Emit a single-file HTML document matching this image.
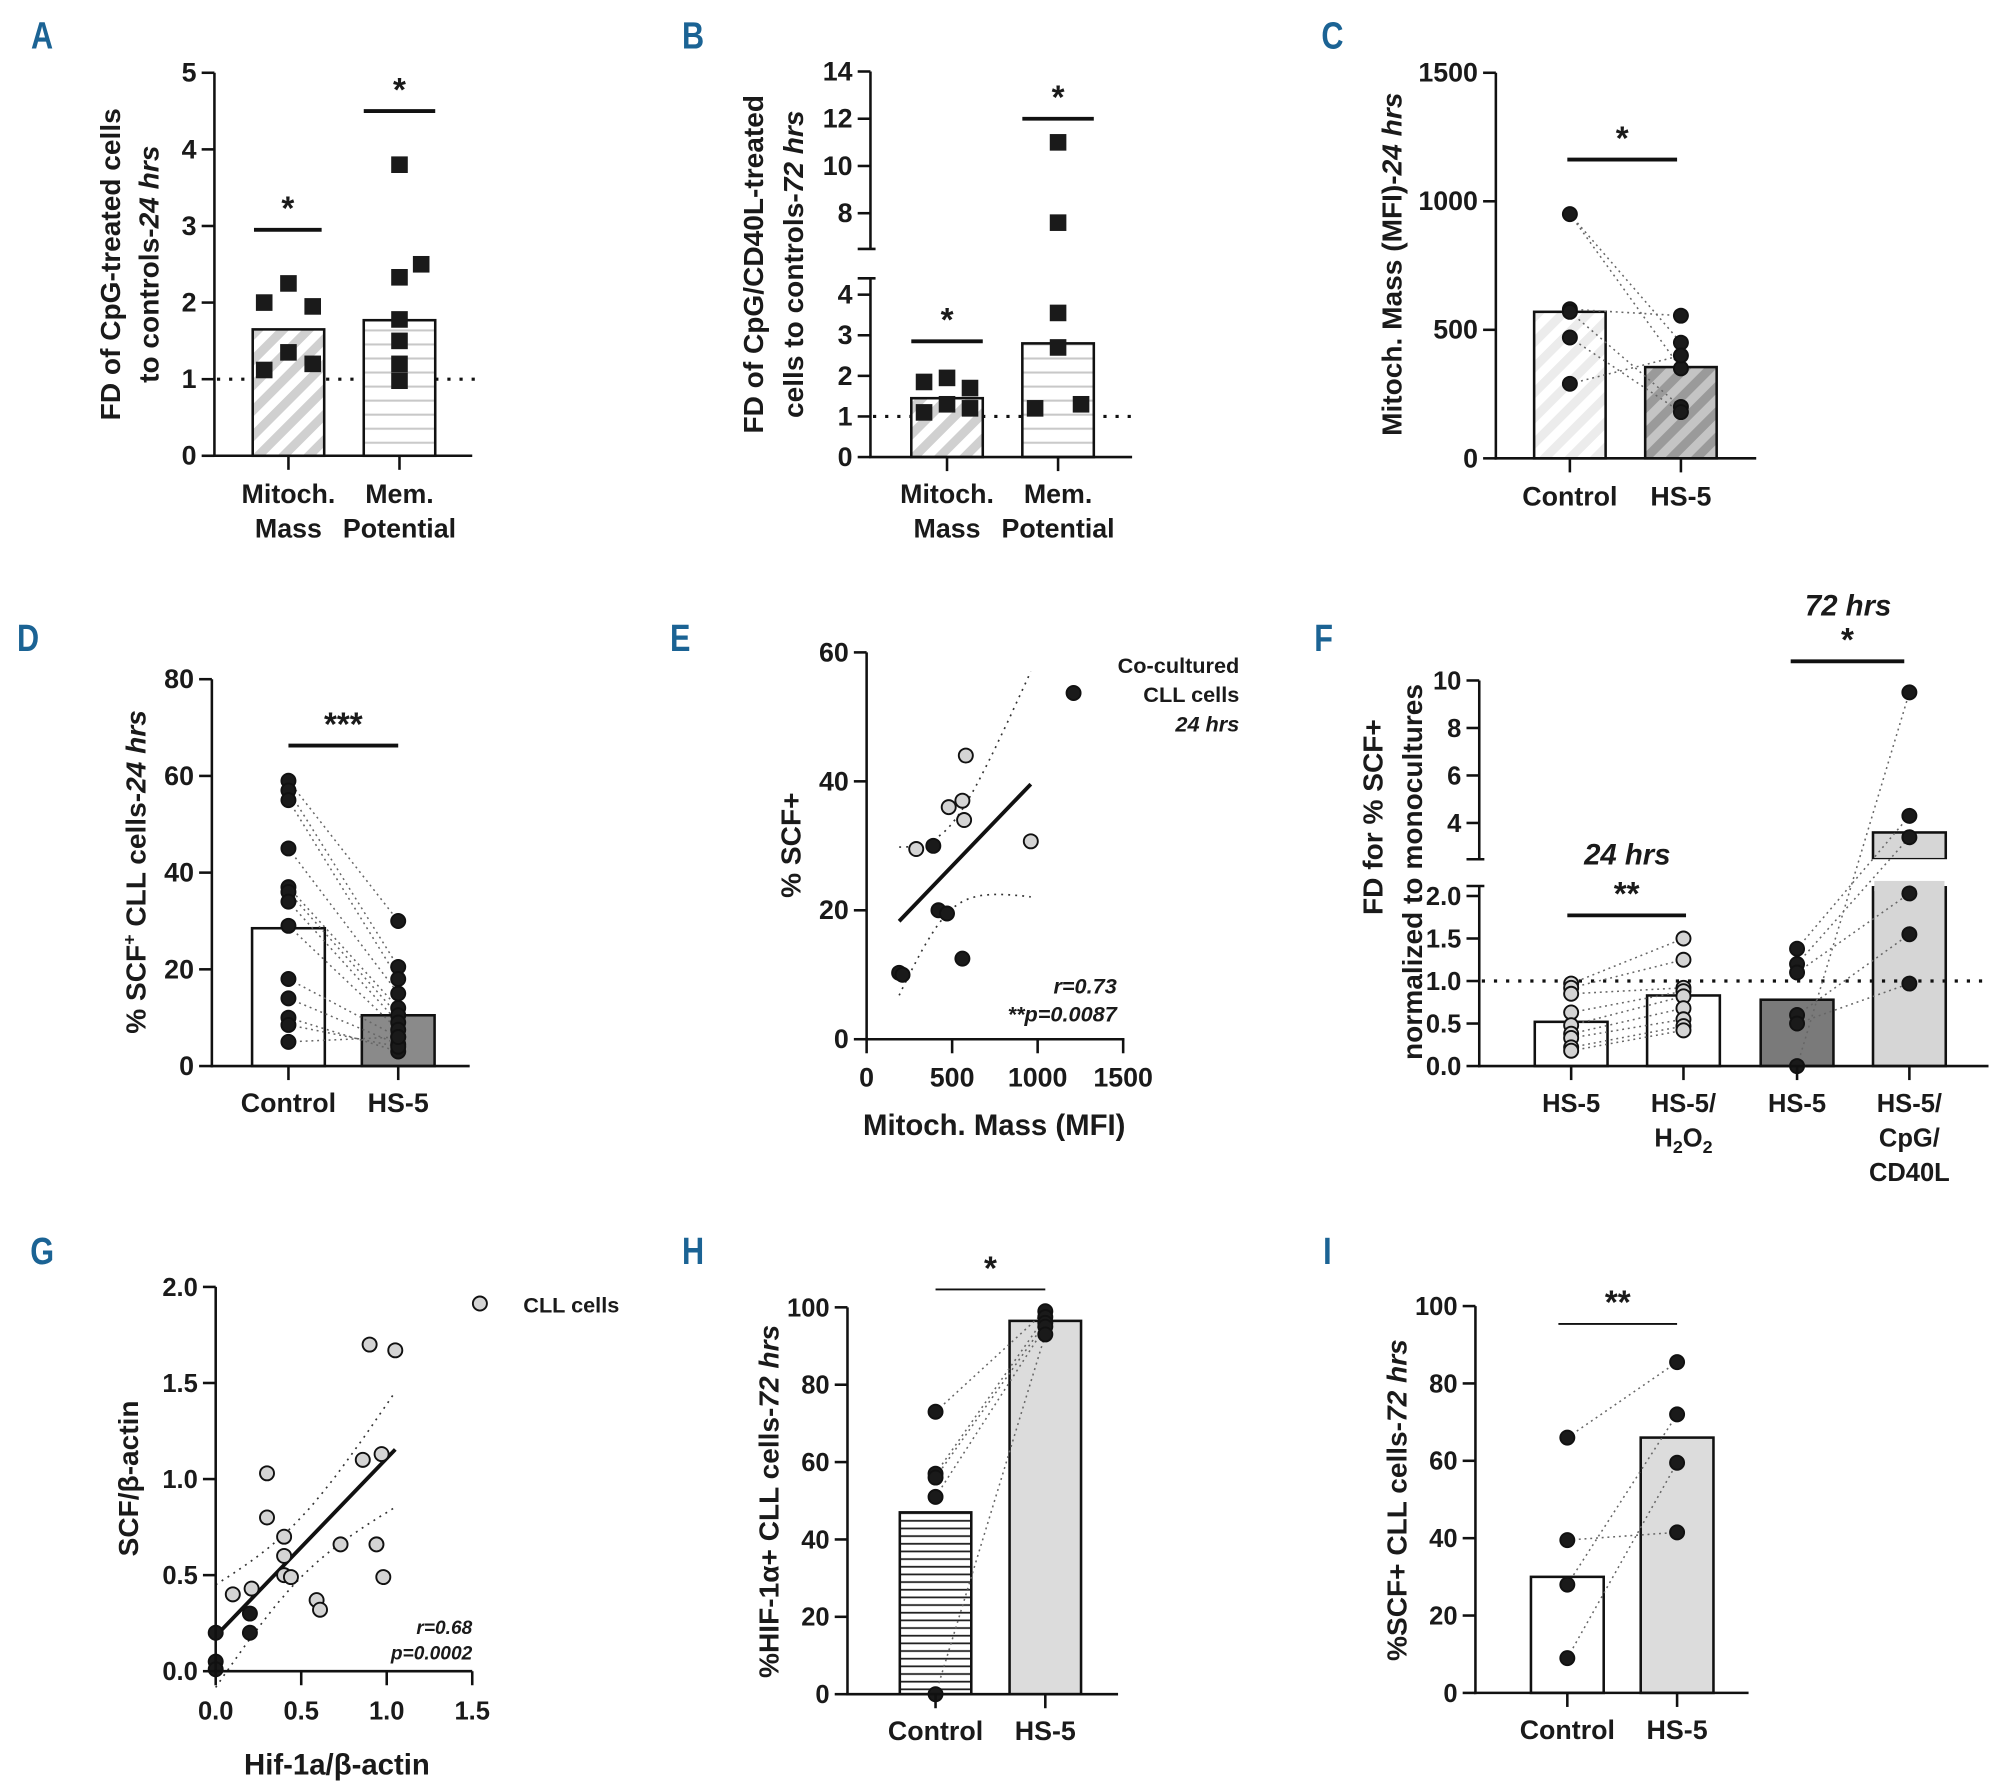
<!DOCTYPE html>
<html><head><meta charset="utf-8"><style>
html,body{margin:0;padding:0;background:#fff;}
svg{display:block;}
text{font-family:"Liberation Sans Narrow","Liberation Sans",sans-serif;font-weight:bold;fill:#1a1a1a;}
</style></head><body>
<svg id="chart" width="2000" height="1781" viewBox="0 0 1567 1395" preserveAspectRatio="none" xmlns="http://www.w3.org/2000/svg">
<defs>
<pattern id="diagLight" patternUnits="userSpaceOnUse" width="14" height="14" patternTransform="rotate(45)"><rect width="14" height="14" fill="#fff"/><rect width="7" height="14" fill="#d0d0d0"/></pattern>
<pattern id="diagVeryLight" patternUnits="userSpaceOnUse" width="14" height="14" patternTransform="rotate(45)"><rect width="14" height="14" fill="#fff"/><rect width="7" height="14" fill="#ececec"/></pattern>
<pattern id="diagDark" patternUnits="userSpaceOnUse" width="14" height="14" patternTransform="rotate(45)"><rect width="14" height="14" fill="#c4c4c4"/><rect width="7" height="14" fill="#9a9a9a"/></pattern>
<pattern id="horizLight" patternUnits="userSpaceOnUse" width="10" height="11"><rect width="10" height="11" fill="#fff"/><rect y="5" width="10" height="1.6" fill="#c8c8c8"/></pattern>
<pattern id="horizDark" patternUnits="userSpaceOnUse" width="10" height="6"><rect width="10" height="6" fill="#fff"/><rect y="2.5" width="10" height="1.4" fill="#222"/></pattern>
</defs>
</svg>
<script>
// ---------- DATA ----------
const aCats = ['Mitoch.|Mass', 'Mem.|Potential'];
const aBars = [1.65, 1.77];
const aPtsMito = [2.0, 2.25, 1.95, 1.35, 1.12, 1.2];
const aPtsMem = [3.8, 2.33, 2.5, 1.78, 1.5, 1.2, 0.98];
const aTicks = [0, 1, 2, 3, 4, 5];

const bBars = [1.45, 2.8];
const bPtsMito = [1.85, 1.95, 1.7, 1.1, 1.3, 1.2];
const bPtsMem = [11, 7.6, 3.55, 2.7, 1.2, 1.3];
const bTicksLow = [0, 1, 2, 3, 4];
const bTicksHigh = [8, 10, 12, 14];

const cCats = ['Control', 'HS-5'];
const cBars = [570, 355];
const cControl = [950, 580, 570, 470, 290];
const cHS5 = [555, 350, 450, 400, 200, 180];
const cTicks = [0, 500, 1000, 1500];

const dCats = ['Control', 'HS-5'];
const dBars = [28.5, 10.5];
const dControl = [59, 57, 55, 45, 37, 36, 34, 29, 18, 14, 10, 8.5, 5];
const dHS5 = [30, 20.5, 18, 15, 12, 10.5, 9, 7.5, 6, 4.5, 3, 4, 6];
const dTicks = [0, 20, 40, 60, 80];

const eDarkX = [390, 420, 470, 560, 190, 210];
const eDarkY = [30, 20, 19.5, 12.5, 10.3, 10];
const eLightX = [580, 560, 480, 570, 290, 960];
const eLightY = [44, 37, 36, 34, 29.5, 30.7];
const eOutlierX = [1210];
const eOutlierY = [53.7];
const eXTicks = [0, 500, 1000, 1500];
const eYTicks = [0, 20, 40, 60];

const fCats = ['HS-5', 'HS-5/|H2O2', 'HS-5', 'HS-5/|CpG/|CD40L'];
const fBars = [0.52, 0.83, 0.78, 3.6];
const fCol1 = [0.97, 0.92, 0.85, 0.63, 0.48, 0.38, 0.33, 0.22, 0.18];
const fCol2 = [1.5, 1.25, 0.92, 0.88, 0.82, 0.68, 0.55, 0.47, 0.42];
const fCol3 = [1.38, 1.2, 1.1, 0.6, 0.5, 0.0];
const fCol4 = [9.5, 4.3, 3.4, 2.03, 1.55, 0.97];
const fTicksLow = [0.0, 0.5, 1.0, 1.5, 2.0];
const fTicksHigh = [4, 6, 8, 10];

const gLightX = [0.9, 1.05, 0.3, 0.3, 0.4, 0.4, 0.4, 0.44, 0.21, 0.1, 0.73, 0.94, 0.86, 0.97, 0.59, 0.61, 0.98];
const gLightY = [1.7, 1.67, 1.03, 0.8, 0.7, 0.6, 0.5, 0.49, 0.43, 0.4, 0.66, 0.66, 1.1, 1.13, 0.37, 0.32, 0.49];
const gDarkX = [0, 0.2, 0.2, 0, 0];
const gDarkY = [0.2, 0.3, 0.2, 0.05, 0.01];
const gXTicks = [0.0, 0.5, 1.0, 1.5];
const gYTicks = [0.0, 0.5, 1.0, 1.5, 2.0];

const hCats = ['Control', 'HS-5'];
const hBars = [47, 96.5];
const hControl = [73, 57, 56, 51, 0];
const hHS5 = [99, 97.5, 96, 95, 93];
const hTicks = [0, 20, 40, 60, 80, 100];

const iCats = ['Control', 'HS-5'];
const iBars = [30, 66];
const iControl = [66, 39.5, 28, 9];
const iHS5 = [85.5, 72, 59.5, 41.5];
const iTicks = [0, 20, 40, 60, 80, 100];

// ---------- HELPERS ----------
const svg = document.getElementById('chart');
const NS = 'http://www.w3.org/2000/svg';
function mk(tag, attrs, parent) {
  const e = document.createElementNS(NS, tag);
  for (const k in attrs) e.setAttribute(k, attrs[k]);
  (parent || svg).appendChild(e);
  return e;
}
function lin(d0, d1, r0, r1) { return v => r0 + (v - d0) * (r1 - r0) / (d1 - d0); }
function txt(x, y, s, size, anchor, extra) {
  const t = mk('text', Object.assign({x: x, y: y, 'font-size': size, 'text-anchor': anchor || 'middle'}, extra || {}));
  t.textContent = s;
  return t;
}
function group(name) {
  const g = mk('g', {});
  
  
  return g;
}
function line(g, x1, y1, x2, y2, w, extra) {
  return mk('line', Object.assign({x1: x1, y1: y1, x2: x2, y2: y2, stroke: '#111', 'stroke-width': w || 2}, extra || {}), g);
}
function panelLetter(x, y, s) {
  const t = txt(x, y, s, 30, 'middle', {fill: '#1b6394', style: 'fill:#1b6394', transform: 'scale(0.8,1)', x: x / 0.8});
  
  
}
function yTick(g, x, y, label, size, extra) {
  line(g, x - 10, y, x, y, 2);
  const t = txt(x - 14, y + 7, label, size || 21, 'end', extra || {});
  
  
}
function yAxis(g, x, yTop, yBot, ticks, sc, fmt, size) {
  const a = line(g, x, yTop, x, yBot, 2);
  
  
  ticks.forEach(v => yTick(g, x, sc(v), fmt ? fmt(v) : String(v), size));
}
function xAxis(g, x1, x2, y, ticksX) {
  const a = line(g, x1 - 1, y, x2, y, 2);
  
  
  ticksX.forEach(x => line(g, x, y, x, y + 11, 2));
}
function yTitle(g, x, yc, parts, size) {
  const t = mk('text', {x: 0, y: 0, 'font-size': size || 22, 'text-anchor': 'middle', transform: 'translate(' + x + ',' + yc + ') rotate(-90)'}, g);
  parts.forEach(p => {
    const s = mk('tspan', p.italic ? {'font-style': 'italic'} : (p.sup ? {'baseline-shift': 'super', 'font-size': 14} : {}), t);
    s.textContent = p.t;
  });
  
  
}
function xCatLabels(g, xs, cats, y, size) {
  cats.forEach((c, i) => {
    c.split('|').forEach((ln, j) => {
      let t;
      if (ln === 'H2O2') {
        t = mk('text', {x: xs[i], y: y + j * 27, 'font-size': size || 21, 'text-anchor': 'middle'}, g);
        ['H', '2', 'O', '2'].forEach((p, k) => { const s = mk('tspan', k % 2 ? {'font-size': 14, dy: 5} : {dy: k === 2 ? -5 : 0}, t); s.textContent = p; });
      } else t = txt(xs[i], y + j * 27, ln, size || 21);
      
      
    });
  });
}
function bar(g, cx, w, y0, y1, fill, name) {
  const r = mk('rect', {x: cx - w / 2, y: Math.min(y0, y1), width: w, height: Math.abs(y0 - y1), fill: fill, stroke: '#111', 'stroke-width': 2}, g);
  
  
  return r;
}
function dot(g, x, y, fill, name, r) {
  const c = mk('circle', {cx: x, cy: y, r: r || 5.5, fill: fill, stroke: '#111', 'stroke-width': 1.5}, g);
  
  
}
function square(g, x, y, name) {
  const r = mk('rect', {x: x - 6.5, y: y - 6.5, width: 13, height: 13, fill: '#1a1a1a'}, g);
  
  
}
function pairLine(g, x1, y1, x2, y2) {
  const l = mk('line', {x1: x1, y1: y1, x2: x2, y2: y2, stroke: '#666', 'stroke-width': 1.2, 'stroke-dasharray': '1.5 3'}, g);
  
  
}
function sig(g, x1, x2, y, stars, w, size) {
  const l = line(g, x1, y, x2, y, w || 3);
  
  
  const t = txt((x1 + x2) / 2, y - 8, stars, size || 26);
  
  
}
function refLine(g, x1, x2, y) {
  const l = mk('line', {x1: x1, y1: y, x2: x2, y2: y, stroke: '#111', 'stroke-width': 2.5, 'stroke-dasharray': '2.5 7'}, g);
  
  
}
function regress(xs, ys) {
  const n = xs.length, mx = xs.reduce((a, b) => a + b) / n, my = ys.reduce((a, b) => a + b) / n;
  let sxx = 0, sxy = 0;
  xs.forEach((x, i) => { sxx += (x - mx) ** 2; sxy += (x - mx) * (ys[i] - my); });
  const b = sxy / sxx, a = my - b * mx;
  let sse = 0; xs.forEach((x, i) => { sse += (ys[i] - a - b * x) ** 2; });
  const s = Math.sqrt(sse / (n - 2));
  return {a: a, b: b, s: s, mx: mx, sxx: sxx, n: n};
}
function regDraw(g, R, xmin, xmax, sx, sy) {
  const l = line(g, sx(xmin), sy(R.a + R.b * xmin), sx(xmax), sy(R.a + R.b * xmax), 3);
  
  
  [1, -1].forEach(sgn => {
    let d = '';
    for (let k = 0; k <= 40; k++) {
      const x = xmin + (xmax - xmin) * k / 40;
      const se = 2.2 * R.s * Math.sqrt(1 / R.n + (x - R.mx) ** 2 / R.sxx);
      d += (k ? 'L' : 'M') + sx(x).toFixed(1) + ',' + sy(R.a + R.b * x + sgn * se).toFixed(1);
    }
    const p = mk('path', {d: d, fill: 'none', stroke: '#333', 'stroke-width': 1.3, 'stroke-dasharray': '1.5 4'}, g);
    
    
  });
}

// ---------- PANEL A ----------
(function () {
  const g = group('panel-a');
  const AX = 168;
  const sy = lin(0, 5, 357, 57), xs = [226, 313];
  refLine(g, AX + 2, 372, sy(1));
  bar(g, xs[0], 56, sy(0), sy(aBars[0]), 'url(#diagLight)', 'bar-mitoch-mass');
  bar(g, xs[1], 56, sy(0), sy(aBars[1]), 'url(#horizLight)', 'bar-mem-potential');
  const jm = [-19, 0, 19, 0, -19, 19];
  aPtsMito.forEach((v, i) => square(g, xs[0] + jm[i], sy(v), 'point-mitoch'));
  const jp = [0, 0, 17, 0, 0, 0, 0];
  aPtsMem.forEach((v, i) => square(g, xs[1] + jp[i], sy(v), 'point-mem'));
  yAxis(g, AX, 57, 358, aTicks, sy);
  xAxis(g, AX, 370, 357, xs);
  sig(g, 199, 252, sy(2.95), '*');
  sig(g, 285, 341, sy(4.5), '*');
  xCatLabels(g, xs, aCats, 394);
  yTitle(g, AX - 74, 207, [{t: 'FD of CpG-treated cells'}]);
  yTitle(g, AX - 44, 207, [{t: 'to  controls-'}, {t: '24 hrs', italic: true}]);
  panelLetter(33, 38, 'A');
})();

// ---------- PANEL B ----------
(function () {
  const g = group('panel-b');
  const AX = 682;
  const sy = v => v <= 5 ? 358 - v * 31.8 : 167 - (v - 8) * 18.5;
  const xs = [742, 829];
  refLine(g, AX + 2, 890, sy(1));
  bar(g, xs[0], 56, sy(0), sy(bBars[0]), 'url(#diagLight)', 'bar-mitoch-mass');
  bar(g, xs[1], 56, sy(0), sy(bBars[1]), 'url(#horizLight)', 'bar-mem-potential');
  const jm = [-18, 0, 18, -18, 0, 18];
  bPtsMito.forEach((v, i) => square(g, xs[0] + jm[i], sy(v), 'point-mitoch'));
  const jp = [0, 0, 0, 0, -18, 18];
  bPtsMem.forEach((v, i) => square(g, xs[1] + jp[i], sy(v), 'point-mem'));
  const a1 = line(g, AX, 218, AX, 358, 2);
  
  
  const a2 = line(g, AX, 56, AX, 195, 2);
  
  
  line(g, AX - 10, 218, AX + 4, 218, 2); line(g, AX - 10, 195, AX + 4, 195, 2);
  bTicksLow.forEach(v => yTick(g, AX, sy(v), String(v)));
  bTicksHigh.forEach(v => yTick(g, AX, sy(v), String(v)));
  xAxis(g, AX, 887, 358, xs);
  sig(g, 714, 770, sy(2.85), '*');
  sig(g, 801, 857, sy(12), '*');
  xCatLabels(g, xs, aCats, 394);
  yTitle(g, AX - 84, 207, [{t: 'FD of CpG/CD40L-treated'}]);
  yTitle(g, AX - 53, 207, [{t: 'cells to controls-'}, {t: '72 hrs', italic: true}]);
  panelLetter(543, 38, 'B');
})();

// ---------- PANEL C ----------
(function () {
  const g = group('panel-c');
  const AX = 1172;
  const sy = lin(0, 1500, 359, 57), xs = [1230, 1317];
  bar(g, xs[0], 56, sy(0), sy(cBars[0]), 'url(#diagVeryLight)', 'bar-control');
  bar(g, xs[1], 56, sy(0), sy(cBars[1]), 'url(#diagDark)', 'bar-hs5');
  const pairs = [[0, 2], [1, 0], [2, 4], [3, 5], [4, 3], [0, 1]];
  pairs.forEach(p => pairLine(g, xs[0], sy(cControl[p[0]]), xs[1], sy(cHS5[p[1]])));
  cControl.forEach(v => dot(g, xs[0], sy(v), '#1a1a1a', 'point-control'));
  cHS5.forEach(v => dot(g, xs[1], sy(v), '#1a1a1a', 'point-hs5'));
  yAxis(g, AX, 57, 360, cTicks, sy);
  xAxis(g, AX, 1376, 359, xs);
  sig(g, 1228, 1314, 125, '*');
  xCatLabels(g, xs, cCats, 396);
  yTitle(g, AX - 74, 207, [{t: 'Mitoch. Mass (MFI)-'}, {t: '24 hrs', italic: true}]);
  panelLetter(1044, 38, 'C');
})();

// ---------- PANEL D ----------
(function () {
  const g = group('panel-d');
  const AX = 166;
  const sy = lin(0, 80, 835, 532), xs = [226, 312];
  bar(g, xs[0], 57, sy(0), sy(dBars[0]), '#fff', 'bar-control');
  bar(g, xs[1], 57, sy(0), sy(dBars[1]), '#8a8a8a', 'bar-hs5');
  dControl.forEach((v, i) => pairLine(g, xs[0], sy(v), xs[1], sy(dHS5[i % dHS5.length])));
  dControl.forEach(v => dot(g, xs[0], sy(v), '#1a1a1a', 'point-control'));
  dHS5.forEach(v => dot(g, xs[1], sy(v), '#1a1a1a', 'point-hs5'));
  yAxis(g, AX, 532, 836, dTicks, sy);
  xAxis(g, AX, 368, 835, xs);
  sig(g, 226, 312, 584, '***');
  xCatLabels(g, xs, dCats, 871);
  yTitle(g, AX - 52, 683, [{t: '% SCF'}, {t: '+', sup: true}, {t: ' CLL cells-'}, {t: '24 hrs', italic: true}]);
  panelLetter(22, 510, 'D');
})();

// ---------- PANEL E ----------
(function () {
  const g = group('panel-e');
  const sx = lin(0, 1500, 679, 880), sy = lin(0, 60, 814, 511);
  const allX = eDarkX.concat(eLightX), allY = eDarkY.concat(eLightY);
  const R = regress(allX, allY);
  regDraw(g, R, Math.min.apply(null, allX), Math.max.apply(null, allX), sx, sy);
  eDarkX.forEach((x, i) => dot(g, sx(x), sy(eDarkY[i]), '#1a1a1a', 'point-dark'));
  eLightX.forEach((x, i) => dot(g, sx(x), sy(eLightY[i]), '#d4d4d4', 'point-light'));
  eOutlierX.forEach((x, i) => dot(g, sx(x), sy(eOutlierY[i]), '#1a1a1a', 'point-outlier'));
  yAxis(g, 679, 511, 815, eYTicks, sy);
  xAxis(g, 679, 881, 814, eXTicks.map(sx));
  eXTicks.forEach(v => { const t = txt(sx(v), 851, String(v), 21);   });
  const xt = txt(779, 889, 'Mitoch. Mass (MFI)', 23);
  
  
  yTitle(g, 627, 662, [{t: '% SCF+'}]);
  txt(971, 527, 'Co-cultured', 17, 'end');
  txt(971, 550, 'CLL cells', 17, 'end');
  txt(971, 573, '24 hrs', 17, 'end', {'font-style': 'italic'});
  txt(875, 778, 'r=0.73', 17, 'end', {'font-style': 'italic', 'font-weight': 'normal'});
  txt(875, 800, '**p=0.0087', 17, 'end', {'font-style': 'italic', 'font-weight': 'normal'});
  panelLetter(533, 510, 'E');
})();

// ---------- PANEL F ----------
(function () {
  const g = group('panel-f');
  const AX = 1159;
  const sy = v => v <= 2.15 ? 835 - v * 66.6 : 533 + (10 - v) * 18.6;
  const xs = [1231, 1319, 1408, 1496];
  const fills = ['#fff', '#fff', '#7a7a7a', '#d6d6d6'];
  fBars.forEach((v, i) => {
    if (v <= 2.15) bar(g, xs[i], 57, sy(0), sy(v), fills[i], 'bar-' + i);
    else {
      bar(g, xs[i], 57, sy(0), 694, fills[i], 'bar-' + i);
      bar(g, xs[i], 57, 673, sy(v), fills[i], 'bar-' + i + '-upper');
      mk('rect', {x: xs[i] - 30, y: 673, width: 60, height: 21, fill: '#fff'}, g);
      mk('rect', {x: xs[i] - 27.5, y: 690, width: 55, height: 8, fill: fills[i]}, g);
    }
  });
  refLine(g, AX + 2, 1558, sy(1));
  fCol1.forEach((v, i) => pairLine(g, xs[0], sy(v), xs[1], sy(fCol2[i])));
  fCol3.forEach((v, i) => pairLine(g, xs[2], sy(v), xs[3], sy(fCol4[(i + 1) % fCol4.length])));
  fCol1.forEach(v => dot(g, xs[0], sy(v), '#d4d4d4', 'point-hs5-24h'));
  fCol2.forEach(v => dot(g, xs[1], sy(v), '#d4d4d4', 'point-hs5-h2o2'));
  fCol3.forEach(v => dot(g, xs[2], sy(v), '#1a1a1a', 'point-hs5-72h'));
  fCol4.forEach(v => dot(g, xs[3], sy(v), '#1a1a1a', 'point-hs5-cpg'));
  const a1 = line(g, AX, 694, AX, 836, 2);
  
  
  const a2 = line(g, AX, 533, AX, 673, 2);
  
  
  line(g, AX - 10, 694, AX + 4, 694, 2); line(g, AX - 10, 673, AX + 4, 673, 2);
  fTicksLow.forEach(v => yTick(g, AX, sy(v), v.toFixed(1), 20));
  fTicksHigh.forEach(v => yTick(g, AX, sy(v), String(v), 20));
  xAxis(g, AX, 1558, 835, xs);
  sig(g, 1228, 1321, 717, '**');
  txt(1275, 677, '24 hrs', 23, 'middle', {'font-style': 'italic'});
  sig(g, 1403, 1492, 518, '*');
  txt(1448, 482, '72 hrs', 23, 'middle', {'font-style': 'italic'});
  xCatLabels(g, xs, fCats, 871, 20);
  yTitle(g, AX - 76, 640, [{t: 'FD for % SCF+'}]);
  yTitle(g, AX - 45, 683, [{t: 'normalized to monocultures'}]);
  panelLetter(1037, 510, 'F');
})();

// ---------- PANEL G ----------
(function () {
  const g = group('panel-g');
  const sx = lin(0, 1.5, 169, 370), sy = lin(0, 2, 1309, 1008);
  const allX = gLightX.concat(gDarkX), allY = gLightY.concat(gDarkY);
  const R = regress(allX, allY);
  regDraw(g, R, 0, Math.max.apply(null, allX), sx, sy);
  gLightX.forEach((x, i) => dot(g, sx(x), sy(gLightY[i]), '#d4d4d4', 'point-cll'));
  gDarkX.forEach((x, i) => dot(g, sx(x), sy(gDarkY[i]), '#1a1a1a', 'point-cll-dark'));
  yAxis(g, 169, 1008, 1310, gYTicks, sy, v => v.toFixed(1), 20);
  xAxis(g, 169, 370, 1309, gXTicks.map(sx));
  gXTicks.forEach(v => { const t = txt(sx(v), 1347, v.toFixed(1), 20, 'middle', {'font-weight': 'normal'});   });
  const xt = txt(264, 1390, 'Hif-1a/β-actin', 23);
  
  
  yTitle(g, 108, 1158, [{t: 'SCF/β-actin'}]);
  dot(g, 376, 1021, '#d4d4d4', 'legend-marker');
  const lt = txt(410, 1028, 'CLL cells', 17, 'start');
  
  
  txt(370, 1280, 'r=0.68', 15, 'end', {'font-style': 'italic', 'font-weight': 'normal'});
  txt(370, 1300, 'p=0.0002', 15, 'end', {'font-style': 'italic', 'font-weight': 'normal'});
  panelLetter(33, 990, 'G');
})();

// ---------- PANEL H ----------
(function () {
  const g = group('panel-h');
  const AX = 664;
  const sy = lin(0, 100, 1327, 1024), xs = [733, 819];
  bar(g, xs[0], 56, sy(0), sy(hBars[0]), 'url(#horizDark)', 'bar-control');
  bar(g, xs[1], 56, sy(0), sy(hBars[1]), '#dcdcdc', 'bar-hs5');
  hControl.forEach((v, i) => pairLine(g, xs[0], sy(v), xs[1], sy(hHS5[i])));
  hControl.forEach(v => dot(g, xs[0], sy(v), '#1a1a1a', 'point-control'));
  hHS5.forEach(v => dot(g, xs[1], sy(v), '#1a1a1a', 'point-hs5'));
  yAxis(g, AX, 1024, 1328, hTicks, sy, null, 20);
  xAxis(g, AX, 876, 1327, xs);
  sig(g, 733, 819, 1010, '*', 1.5);
  xCatLabels(g, xs, hCats, 1363);
  yTitle(g, AX - 54, 1176, [{t: '%HIF-1α+ CLL cells-'}, {t: '72 hrs', italic: true}]);
  panelLetter(543, 990, 'H');
})();

// ---------- PANEL I ----------
(function () {
  const g = group('panel-i');
  const AX = 1156;
  const sy = lin(0, 100, 1326, 1023), xs = [1228, 1314];
  bar(g, xs[0], 57, sy(0), sy(iBars[0]), '#fff', 'bar-control');
  bar(g, xs[1], 57, sy(0), sy(iBars[1]), '#dcdcdc', 'bar-hs5');
  const pr = [0, 3, 1, 2];
  iControl.forEach((v, i) => pairLine(g, xs[0], sy(v), xs[1], sy(iHS5[pr[i]])));
  iControl.forEach(v => dot(g, xs[0], sy(v), '#1a1a1a', 'point-control'));
  iHS5.forEach(v => dot(g, xs[1], sy(v), '#1a1a1a', 'point-hs5'));
  yAxis(g, AX, 1023, 1327, iTicks, sy, null, 20);
  xAxis(g, AX, 1370, 1326, xs);
  sig(g, 1221, 1314, 1037, '**', 1.5);
  xCatLabels(g, xs, iCats, 1362);
  yTitle(g, AX - 54, 1175, [{t: '%SCF+ CLL cells-'}, {t: '72 hrs', italic: true}]);
  panelLetter(1040, 990, 'I');
})();
</script>
</body></html>
